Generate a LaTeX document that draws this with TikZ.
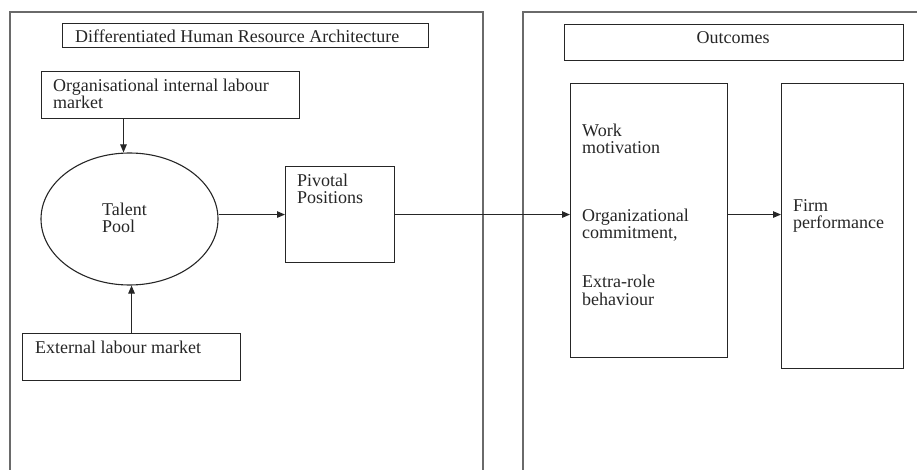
\documentclass[tikz,border=0pt]{standalone}
\usepackage{fontspec}
\setmainfont{Liberation Serif}
\usetikzlibrary{arrows.meta,shapes.geometric}
\definecolor{ink}{HTML}{262626}
\definecolor{frame}{HTML}{6A6A6A}
\begin{document}
\begin{tikzpicture}[x=1pt,y=-1pt,
  box/.style={draw=ink,line width=1.1pt,inner sep=0pt,anchor=north west},
  % multi-line labels sit on the baseline of their last line
  lbl/.style={inner sep=0pt,text=ink,align=left,anchor=base west,
    font=\fontsize{18}{17.5}\selectfont},
  arr/.style={draw=ink,line width=1.1pt,-{Triangle[length=8pt,width=6.5pt]}},
  outer/.style={draw=frame,line width=1.6pt}]
\useasboundingbox (0,0) rectangle (917,470);
\clip (0,0) rectangle (917,470);

% two open frames
\draw[outer] (10,480) -- (10,12) -- (483,12) -- (483,480);
\draw[outer] (523,480) -- (523,12) -- (930,12);

% left panel boxes
\node[box,minimum width=366pt,minimum height=24pt] (dhra) at (62,23) {};
\node[lbl] (dhraT) at (75,43) {Differentiated Human Resource Architecture};

\node[box,minimum width=258pt,minimum height=47pt] (oilm) at (41,71) {};
\node[lbl] (oilmT) at (53,109) {Organisational internal labour\\market};

\node[draw=ink,line width=1.1pt,ellipse,inner sep=0pt,
      minimum width=177pt,minimum height=132pt] (pool) at (129.5,219) {};
\node[lbl] (poolT) at (102,233) {Talent\\Pool};

\node[box,minimum width=218pt,minimum height=47pt] (ext) at (22,333) {};
\node[lbl] (extT) at (35,353) {External labour market};

\node[box,minimum width=109pt,minimum height=96pt] (piv) at (285,166) {};
\node[lbl] (pivT) at (297,204) {Pivotal\\Positions};

% right panel boxes
\node[box,minimum width=339pt,minimum height=36pt] (outc) at (564,24) {};
\node[lbl,anchor=base] (outcT) at (733,44) {Outcomes};

\node[box,minimum width=157pt,minimum height=274pt] (work) at (570,83) {};
\node[lbl] (workA) at (582,154) {Work\\motivation};
\node[lbl] (workB) at (582,239) {Organizational\\commitment,};
\node[lbl] (workC) at (582,305) {Extra-role\\behaviour};

\node[box,minimum width=122pt,minimum height=285pt] (firm) at (781,83) {};
\node[lbl] (firmT) at (793,229) {Firm\\performance};

% connectors
\draw[arr] (oilm.south -| pool.north) ++(-6,0) coordinate (oilmOut) -- (oilmOut |- pool.north);
\draw[arr] (ext.north) -- (ext.north |- pool.south);
\draw[arr] (pool.east |- piv.west) -- (piv.west);
\draw[arr] (piv.east) -- (piv.east -| work.west);
\draw[arr] (piv.east -| work.east) -- (piv.east -| firm.west);
\end{tikzpicture}
\end{document}
